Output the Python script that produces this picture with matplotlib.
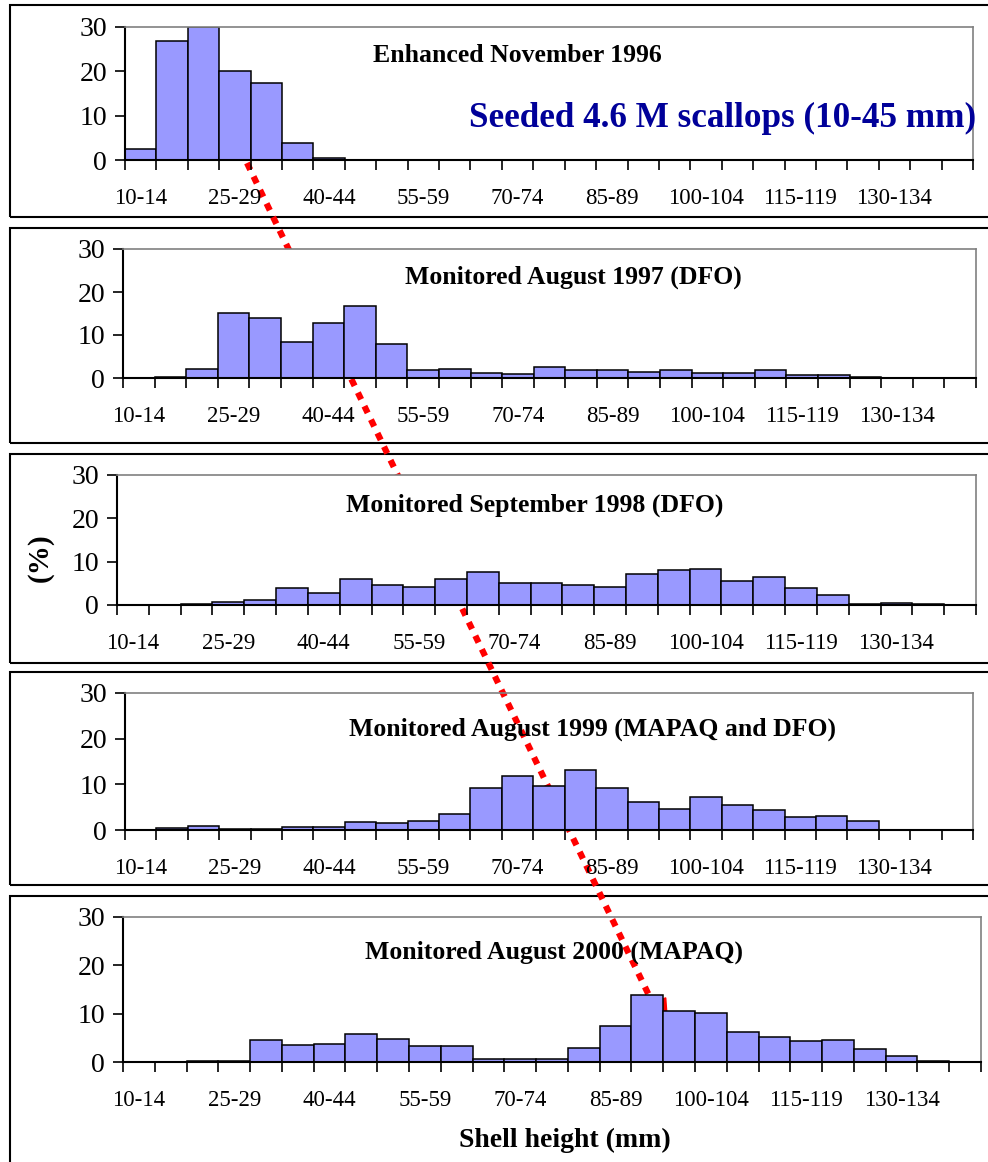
import matplotlib.pyplot as plt
from matplotlib.lines import Line2D
from matplotlib.patches import Rectangle, Polygon

# size classes (mm)
classes = ['%d-%d' % (lo, lo + 4) for lo in range(10, 145, 5)]

# percentages per size class
nov_1996 = [2.4, 26.8, 30.0, 20.1, 17.4, 3.9, 0.4, 0, 0, 0, 0, 0, 0, 0,
            0, 0, 0, 0, 0, 0, 0, 0, 0, 0, 0, 0, 0]
aug_1997 = [0, 0.3, 2.2, 15.2, 13.9, 8.3, 12.8, 16.7, 8.0, 1.9, 2.1, 1.2, 0.85, 2.5,
            1.9, 1.9, 1.5, 1.9, 1.25, 1.25, 1.9, 0.6, 0.6, 0.3, 0, 0, 0]
sep_1998 = [0, 0, 0.3, 0.6, 1.15, 4.0, 2.7, 6.0, 4.7, 4.2, 5.9, 7.7, 5.0, 5.0,
            4.7, 4.1, 7.1, 8.0, 8.3, 5.6, 6.5, 3.9, 2.3, 0.2, 0.5, 0.2, 0]
aug_1999 = [0, 0.35, 0.9, 0.3, 0.3, 0.6, 0.6, 1.75, 1.5, 2.0, 3.4, 9.1, 11.75, 9.6,
            13.1, 9.1, 6.1, 4.5, 7.2, 5.5, 4.3, 2.8, 3.1, 2.0, 0, 0, 0]
aug_2000 = [0, 0, 0.3, 0.3, 4.55, 3.5, 3.7, 5.7, 4.8, 3.3, 3.3, 0.55, 0.55, 0.55,
            3.0, 7.4, 13.8, 10.55, 10.1, 6.2, 5.2, 4.35, 4.6, 2.76, 1.24, 0.3, 0]

series = [nov_1996, aug_1997, sep_1998, aug_1999, aug_2000]
titles = ['Enhanced November 1996',
          'Monitored August 1997 (DFO)',
          'Monitored September 1998 (DFO)',
          'Monitored August 1999 (MAPAQ and DFO)',
          'Monitored August 2000 (MAPAQ)']

W, H = 988, 1162
plt.rcParams['font.family'] = ['Liberation Serif', 'DejaVu Serif']

fig = plt.figure(figsize=(W / 100, H / 100), dpi=100)

def fx(x):
    return x / W

def fy(y):
    return 1 - y / H

# plot areas (pixels: left, right, top, bottom) and outer boxes (top, bottom)
plots = [(125, 973, 27, 160), (123, 976, 249, 378), (117, 976, 475, 605),
         (125, 973, 693, 830), (123, 981, 917, 1062)]
boxes = [(5, 217), (228, 443), (454, 663), (672, 885), (896, 1175)]
title_pos = [(517, 55), (573, 277), (535, 505), (592, 729), (554, 952)]

for (bt, bb) in boxes:
    fig.patches.append(Rectangle((fx(10), fy(bb)), fx(990) - fx(10), fy(bt) - fy(bb),
                                 transform=fig.transFigure, fill=False,
                                 edgecolor='black', linewidth=1.5, zorder=1))

x = list(range(len(classes)))
for i, vals in enumerate(series):
    l, r, t, b = plots[i]
    ax = fig.add_axes([fx(l), fy(b), fx(r) - fx(l), fy(t) - fy(b)], zorder=3)
    if i >= 3:
        ax.patch.set_facecolor('none')
    ax.bar(x, vals, width=1.0, color='#9999FF', edgecolor='black', linewidth=1.1)
    ax.set_xlim(-0.5, len(classes) - 0.5)
    ax.set_ylim(0, 30)
    ax.set_yticks([0, 10, 20, 30])
    ax.set_xticks([k - 0.5 for k in range(len(classes) + 1)])
    ax.set_xticklabels([])
    ax.set_xticks(x[::3], minor=True)
    ax.set_xticklabels(classes[::3], minor=True)
    ax.tick_params(axis='x', which='major', length=7, width=1.2, direction='out')
    ax.tick_params(axis='x', which='minor', length=0, pad=20, labelsize=16.5)
    ax.tick_params(axis='y', length=7, width=1.2, pad=6, labelsize=20)
    for s in ['top', 'right']:
        ax.spines[s].set_color('#808080')
        ax.spines[s].set_linewidth(1.2)
    for s in ['left', 'bottom']:
        ax.spines[s].set_linewidth(1.5)
    tx, ty = title_pos[i]
    fig.text(fx(tx), fy(ty), titles[i], ha='center', va='center',
             fontsize=18.5, fontweight='bold', zorder=5)

fig.text(fx(469), fy(118), 'Seeded 4.6 M scallops (10-45 mm)', ha='left', va='center',
         fontsize=25.3, fontweight='bold', color='#000099', zorder=5)
fig.text(fx(40), fy(558), '(%)', rotation=90, ha='center', va='center',
         fontsize=21, fontweight='bold')
fig.text(fx(565), fy(1140), 'Shell height (mm)', ha='center', va='center',
         fontsize=20, fontweight='bold')

# red dotted growth line (behind plot areas)
fig.lines.append(Line2D([fx(247), fx(657)], [fy(163), fy(1012)], transform=fig.transFigure,
                        color='red', linewidth=4.5, linestyle=(0, (1.2, 1.2)), zorder=2))
fig.patches.append(Polygon([(fx(668), fy(1030)), (fx(665.7), fy(997.8)), (fx(644.1), fy(1008.2))],
                           closed=True, transform=fig.transFigure, color='red', zorder=2))

fig.savefig('out.png', dpi=100)
